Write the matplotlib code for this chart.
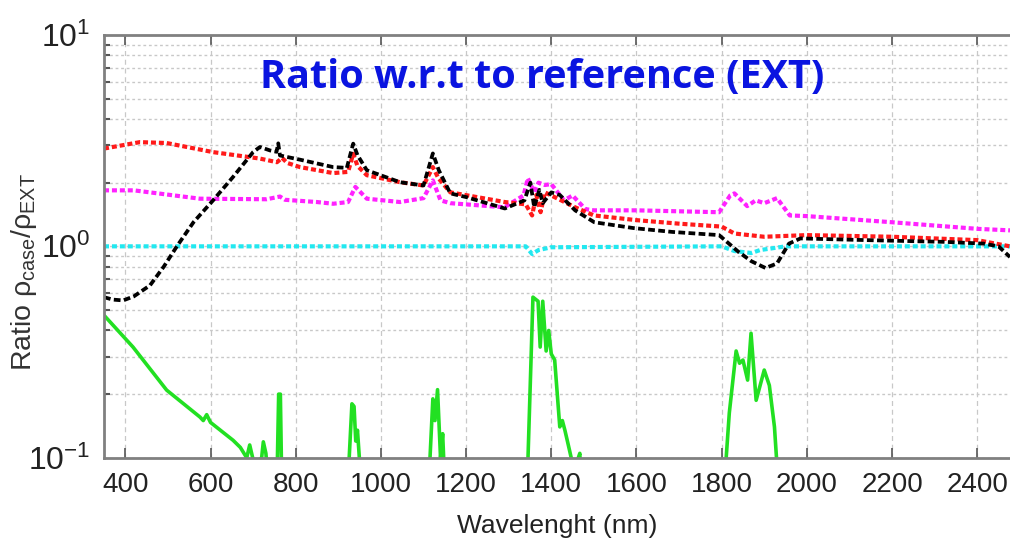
import matplotlib
matplotlib.use("Agg")
import matplotlib.pyplot as plt
from matplotlib.ticker import LogLocator, FixedLocator, NullFormatter

plt.rcParams["font.family"] = ["Liberation Sans", "DejaVu Sans"]
plt.rcParams["mathtext.fontset"] = "custom"
plt.rcParams["mathtext.rm"] = "Liberation Sans"
plt.rcParams["mathtext.it"] = "Liberation Sans"

# ratio curves, read per series (wavelength in nm)
wl_black = [350, 370, 395, 420, 458, 490, 521, 560, 606, 653,
            700, 716, 740, 755, 759, 763, 810, 888, 920, 935,
            945, 967, 1045, 1100, 1122, 1136, 1163, 1200, 1291, 1337,
            1351, 1360, 1372, 1380, 1400, 1420, 1456, 1501, 1593, 1684,
            1794, 1840, 1870, 1903, 1930, 1958, 1985, 2141, 2323, 2415,
            2450, 2477]
black = [0.575, 0.56, 0.555, 0.58, 0.654, 0.80, 1.0, 1.3, 1.65, 2.13,
         2.79, 2.95, 2.84, 2.80, 3.07, 2.69, 2.57, 2.37, 2.35, 3.06,
         2.7, 2.29, 2.01, 1.94, 2.75, 2.29, 1.78, 1.71, 1.51, 1.65,
         2.0, 1.53, 1.85, 1.6, 1.80, 1.75, 1.48, 1.30, 1.22, 1.17,
         1.13, 0.94, 0.85, 0.79, 0.83, 1.03, 1.09, 1.07, 1.05, 1.03,
         1.0, 0.89]

wl_red = [350, 434, 497, 606, 716, 756, 768, 780, 810, 888,
          923, 935, 945, 967, 1045, 1100, 1122, 1135, 1163, 1291,
          1340, 1355, 1365, 1375, 1385, 1400, 1456, 1500, 1600, 1700,
          1800, 1830, 1900, 2000, 2200, 2400, 2477]
red = [2.90, 3.11, 3.08, 2.79, 2.60, 2.50, 2.62, 2.48, 2.37, 2.22,
       2.25, 2.74, 2.4, 2.17, 2.01, 1.94, 2.37, 2.1, 1.80, 1.62,
       1.58, 1.40, 1.75, 1.45, 1.8, 1.74, 1.53, 1.40, 1.33, 1.28,
       1.24, 1.15, 1.11, 1.13, 1.11, 1.07, 1.0]

wl_magenta = [350, 420, 575, 732, 763, 775, 850, 888, 923, 940,
              967, 1045, 1100, 1122, 1140, 1163, 1290, 1335, 1345, 1360,
              1370, 1385, 1400, 1430, 1450, 1480, 1500, 1600, 1794, 1820,
              1830, 1860, 1880, 1900, 1930, 1960, 2000, 2200, 2400, 2477]
magenta = [1.84, 1.84, 1.68, 1.67, 1.72, 1.66, 1.62, 1.59, 1.62, 1.91,
           1.68, 1.62, 1.69, 2.05, 1.65, 1.60, 1.53, 1.74, 2.1, 1.8,
           2.0, 1.95, 1.97, 1.65, 1.74, 1.5, 1.48, 1.48, 1.45, 1.74,
           1.78, 1.55, 1.65, 1.6, 1.69, 1.40, 1.39, 1.30, 1.21, 1.19]

wl_cyan = [350, 1340, 1355, 1370, 1400, 1800, 1830, 1870, 1890, 1950, 2477]
cyan = [1.0, 1.0, 0.92, 0.96, 0.99, 1.0, 0.95, 0.93, 0.96, 1.0, 1.0]

wl_green = [350, 418, 497, 575, 583, 591, 600, 653, 670, 685,
            692, 700, 712, 720, 724, 730, 740, 755, 760, 764,
            768, 920, 932, 937, 941, 945, 957, 1110, 1122, 1127,
            1133, 1140, 1145, 1152, 1342, 1357, 1369, 1374, 1380, 1388,
            1394, 1400, 1408, 1420, 1426, 1432, 1440, 1452, 1460, 1467,
            1472, 1803, 1818, 1834, 1842, 1850, 1861, 1869, 1881, 1900,
            1912, 1924, 1936]
green = [0.472, 0.334, 0.209, 0.156, 0.150, 0.160, 0.147, 0.121, 0.112, 0.10,
         0.115, 0.098, 0.097, 0.10, 0.119, 0.105, 0.06, 0.06, 0.20, 0.20,
         0.06, 0.06, 0.18, 0.175, 0.12, 0.135, 0.06, 0.06, 0.19, 0.15,
         0.21, 0.10, 0.13, 0.06, 0.06, 0.575, 0.55, 0.334, 0.55, 0.32,
         0.40, 0.31, 0.29, 0.14, 0.15, 0.135, 0.115, 0.09, 0.095, 0.105,
         0.06, 0.06, 0.163, 0.32, 0.28, 0.29, 0.233, 0.388, 0.187, 0.26,
         0.22, 0.14, 0.06]

xticks = [400, 600, 800, 1000, 1200, 1400, 1600, 1800, 2000, 2200, 2400]

fig = plt.figure(figsize=(10.1, 5.45), dpi=100)
ax = fig.add_axes([0.103, 0.160, 0.897, 0.776])

dots = (0, (1.2, 0.7))
ax.plot(wl_green, green, color="#22e022", lw=2.6, solid_joinstyle="round")
ax.plot(wl_magenta, magenta, color="#ff22ff", lw=3.0, ls=dots)
ax.plot(wl_cyan, cyan, color="#22e8f0", lw=3.0, ls=dots)
ax.plot(wl_red, red, color="#ff1a1a", lw=3.0, ls=dots)
ax.plot(wl_black, black, color="black", lw=2.7, ls=(0, (1.8, 0.9)))

ax.set_yscale("log")
ax.set_ylim(0.1, 10)
ax.set_xlim(350, 2477)
ax.xaxis.set_major_locator(FixedLocator(xticks))
ax.yaxis.set_major_locator(LogLocator(base=10))
ax.yaxis.set_minor_locator(LogLocator(base=10, subs=range(2, 10)))
ax.yaxis.set_minor_formatter(NullFormatter())

ax.grid(True, axis="x", which="major", color="#c8c8c8", ls=(0, (4, 3)), lw=0.9)
ax.grid(True, axis="y", which="both", color="#c8c8c8", ls=(0, (2, 2)), lw=1.0)
ax.set_axisbelow(True)

for side in ["left", "bottom", "top"]:
    ax.spines[side].set_color("#808080")
    ax.spines[side].set_linewidth(2)
ax.spines["right"].set_visible(False)

ax.tick_params(axis="both", which="both", direction="in", colors="#555555",
               labelcolor="#222222", top=True)
ax.tick_params(axis="x", which="major", length=7, width=1.2, labelsize=20, pad=10)
ax.tick_params(axis="y", which="major", length=0, labelsize=23, pad=10)
ax.tick_params(axis="y", which="minor", length=4, width=1.5)

ax.set_xlabel("Wavelenght (nm)", fontsize=19, color="#222222", labelpad=12)
ax.set_ylabel(r"Ratio $\rho_{\mathrm{case}}/\rho_{\mathrm{EXT}}$", fontsize=20.5,
              color="#333333", va="center")
ax.yaxis.set_label_coords(-0.088, 0.44)

fig.text(0.537, 0.857, "Ratio w.r.t to reference (EXT)", color="#0a14e0",
         fontsize=28.5, fontweight="bold", family=["Open Sans", "DejaVu Sans"],
         ha="center", va="center")

fig.savefig("out.png", dpi=100)
